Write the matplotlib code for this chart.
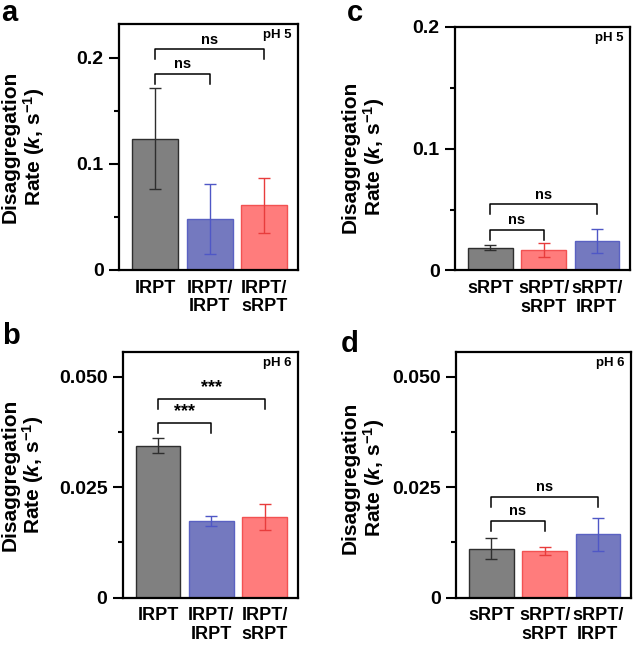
import matplotlib
matplotlib.use("Agg")
import matplotlib.pyplot as plt
from matplotlib.ticker import FixedLocator, FixedFormatter

plt.rcParams['font.family'] = ['Liberation Sans', 'DejaVu Sans']
plt.rcParams['font.weight'] = 'bold'
plt.rcParams['mathtext.fontset'] = 'custom'
plt.rcParams['mathtext.rm'] = 'Liberation Sans:bold'
plt.rcParams['mathtext.it'] = 'Liberation Sans:italic:bold'
plt.rcParams['mathtext.bf'] = 'Liberation Sans:bold'

# data
long_labels = ['IRPT', 'IRPT/\nIRPT', 'IRPT/\nsRPT']
short_labels = ['sRPT', 'sRPT/\nsRPT', 'sRPT/\nIRPT']

a_vals = [0.1237, 0.0479, 0.0610]
a_err = [0.0475, 0.0330, 0.0260]
b_vals = [0.0344, 0.0173, 0.0183]
b_err = [0.0017, 0.0011, 0.0030]
c_vals = [0.0187, 0.0168, 0.0242]
c_err = [0.0022, 0.0055, 0.0099]
d_vals = [0.0111, 0.0106, 0.0143]
d_err = [0.0024, 0.0009, 0.0038]

a_sig = [(0, 1, 0.185, 'ns'), (0, 2, 0.208, 'ns')]
b_sig = [(0, 1, 0.0395, '***'), (0, 2, 0.0450, '***')]
c_sig = [(0, 1, 0.0332, 'ns'), (0, 2, 0.0543, 'ns')]
d_sig = [(0, 1, 0.0174, 'ns'), (0, 2, 0.0228, 'ns')]

gray = ('#808080', '#2e2e2e', '#2e2e2e')
blue = ('#7479bf', '#5a61c2', '#4f57c6')
red = ('#ff7c7c', '#f25252', '#e83c3c')

W, H = 633, 646
fig = plt.figure(figsize=(W / 100, H / 100), dpi=100)


def px_axes(x0, y0, x1, y1):
    return fig.add_axes([x0 / W, 1 - y1 / H, (x1 - x0) / W, (y1 - y0) / H])


def panel(ax, labels, vals, errs, colors, sig, ymax, major, major_lbl, minor, ph, ylab_pos):
    xs = range(len(vals))
    for x, v, e, (fc, ec, erc) in zip(xs, vals, errs, colors):
        ax.bar(x, v, 0.84, color=fc, edgecolor=ec, linewidth=1.0, zorder=2)
        ax.errorbar(x, v, yerr=e, color=erc, elinewidth=1.0, capsize=4.5,
                    capthick=1.0, zorder=3)
    ax.set_xlim(-0.66, 2.62)
    ax.set_ylim(0, ymax)
    ax.set_xticks(list(xs))
    ax.set_xticklabels(labels, fontsize=13, fontweight='bold', linespacing=1.1)
    ax.tick_params(axis='x', length=0, pad=7)
    ax.yaxis.set_major_locator(FixedLocator(major))
    ax.yaxis.set_major_formatter(FixedFormatter(major_lbl))
    ax.yaxis.set_minor_locator(FixedLocator(minor))
    ax.tick_params(axis='y', which='major', length=7, width=1.5, labelsize=14, pad=4)
    ax.tick_params(axis='y', which='minor', length=3.5, width=1.5)
    for s in ax.spines.values():
        s.set_linewidth(1.6)
    drop = 0.04 * ymax
    for i, j, y, txt in sig:
        ax.plot([i, i, j, j], [y - drop, y, y, y - drop], color='black', lw=1.1, zorder=4)
        ax.annotate(txt, xy=((i + j) / 2, y), xytext=(0, 2), textcoords='offset points',
                    ha='center', va='bottom', fontsize=10.5 if txt == 'ns' else 13,
                    fontweight='bold')
    ax.text(0.965, 0.955, ph, transform=ax.transAxes, ha='right', va='center',
            fontsize=9.5, fontweight='bold')
    ax.set_ylabel('Disaggregation\nRate ($k$, s$^{-1}$)', fontsize=15, fontweight='bold',
                  linespacing=1.05)
    ax.yaxis.set_label_coords(*ylab_pos)


ax_a = px_axes(119, 24, 298, 270)
ax_c = px_axes(455, 26.7, 630, 270.5)
ax_b = px_axes(122.7, 352.3, 298, 597.7)
ax_d = px_axes(456, 352.3, 631, 597.7)

panel(ax_a, long_labels, a_vals, a_err, [gray, blue, red], a_sig, 0.232,
      [0, 0.1, 0.2], ['0', '0.1', '0.2'], [0.05, 0.15], 'pH 5', (-0.405, 0.5))
panel(ax_b, long_labels, b_vals, b_err, [gray, blue, red], b_sig, 0.0555,
      [0, 0.025, 0.05], ['0', '0.025', '0.050'], [0.0125, 0.0375], 'pH 6', (-0.435, 0.5))
panel(ax_c, short_labels, c_vals, c_err, [gray, red, blue], c_sig, 0.2,
      [0, 0.1, 0.2], ['0', '0.1', '0.2'], [0.05, 0.15], 'pH 5', (-0.39, 0.465))
panel(ax_d, short_labels, d_vals, d_err, [gray, red, blue], d_sig, 0.0555,
      [0, 0.025, 0.05], ['0', '0.025', '0.050'], [0.0125, 0.0375], 'pH 6', (-0.395, 0.49))

for lbl, x, y in [('a', 1, 21), ('b', 2, 344), ('c', 347, 21), ('d', 341, 352)]:
    fig.text(x / W, 1 - y / H, lbl, fontsize=21, fontweight='bold', va='baseline')

fig.savefig('out.png', dpi=100)
